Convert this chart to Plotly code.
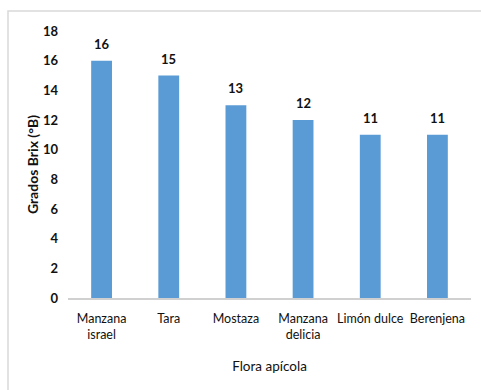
import plotly.graph_objects as go

categories = ["Manzana<br>israel", "Tara", "Mostaza", "Manzana<br>delicia", "Limón dulce", "Berenjena"]
values = [16, 15, 13, 12, 11, 11]
y_ticks = list(range(0, 20, 2))

W, H = 481, 390
ml, mr, mt, mb = 68, 10, 31, 92
pw, ph = W - ml - mr, H - mt - mb

fig = go.Figure(go.Bar(
    x=categories, y=values,
    marker=dict(color="#5B9BD5", line=dict(width=0)),
    width=0.31,
    cliponaxis=False,
))

for c, v in zip(categories, values):
    fig.add_annotation(x=c, y=v, text=f"<b>{v}</b>", showarrow=False,
                       yshift=17, font=dict(family="Lato", size=13, color="#111111"))

def px_x(x):
    return (x - ml) / pw

def px_y(y):
    return (H - mb - y) / ph

fig.add_shape(type="rect", xref="paper", yref="paper",
              x0=px_x(8), x1=px_x(490), y0=px_y(400), y1=px_y(11),
              line=dict(color="#D9D9D9", width=1.5), fillcolor="rgba(0,0,0,0)", layer="below")

fig.update_layout(
    width=W, height=H,
    margin=dict(l=ml, r=mr, t=mt, b=mb),
    paper_bgcolor="white", plot_bgcolor="white",
    showlegend=False,
    font=dict(family="Lato", color="#111111"),
    xaxis=dict(
        showline=True, linecolor="#D0D0D0", linewidth=1.5,
        showgrid=False, ticks="", ticklabelstandoff=8,
        tickfont=dict(family="Lato", size=12.5, color="#111111"),
        title=dict(text="Flora apícola", font=dict(family="Lato", size=13.5, color="#111111"), standoff=21),
    ),
    yaxis=dict(
        range=[0, 18], tickvals=y_ticks, ticktext=[f"<b>{t}</b>" for t in y_ticks],
        showline=False, showgrid=False, zeroline=False, ticks="",
        ticklabelstandoff=9,
        tickfont=dict(family="Lato", size=13, color="#111111"),
        title=dict(text="<b>Grados Brix (°B)</b>", font=dict(family="Lato", size=14, color="#111111"), standoff=1),
    ),
)

fig.write_html("out.html")
